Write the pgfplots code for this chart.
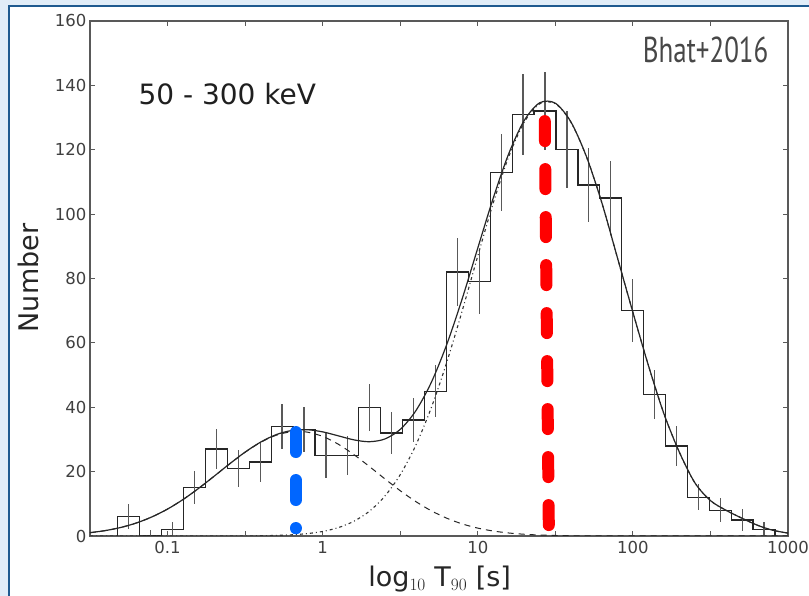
\documentclass[border=0pt]{standalone}
\usepackage{fontspec}
\setmainfont{DejaVu Sans}
\newfontfamily\bhatfont{PT Sans}
\usepackage{graphicx}
\usepackage{pgfplots}
\usepackage{pgfplotstable}
\pgfplotsset{compat=1.18}
\definecolor{framebg}{HTML}{E1EDF8}
\definecolor{framedark}{HTML}{1F5A8F}
\definecolor{blueline}{HTML}{0066FF}
\definecolor{redline}{HTML}{FF0000}

% histogram outline: left bin edge (log10 T90), count
\pgfplotstableread{
x y
-1.3206 0
-1.3206 6
-1.1794 0
-1.0382 2
-0.8969 15
-0.7557 27
-0.6144 21
-0.4732 23
-0.3320 34
-0.1907 33
-0.0495 25
0.0917 25
0.2330 40
0.3742 32
0.5154 36
0.6566 45
0.7979 82
0.9391 79
1.0803 113
1.2216 131
1.3628 132
1.5040 120
1.6452 109
1.7865 105
1.9277 70
2.0689 44
2.2102 28
2.3514 12
2.4926 8
2.6339 5
2.7751 2
2.9163 0
}\histdata

% bin centres, counts, errors
\pgfplotstableread{
x y e
-1.2500 6 3.8
-1.1088 0 2.0
-0.9675 2 2.4
-0.8263 15 5.2
-0.6851 27 6.3
-0.5438 21 5.7
-0.4026 23 6.2
-0.2614 34 7.1
-0.1201 33 7.0
0.0211 25 7.0
0.1623 25 6.1
0.3036 40 7.3
0.4448 32 6.5
0.5860 36 6.8
0.7273 45 8.0
0.8685 82 10.5
1.0097 79 10.0
1.1509 113 12.0
1.2922 131 12.6
1.4334 132 12.0
1.5746 120 12.0
1.7159 109 11.5
1.8571 105 11.5
1.9983 70 9.8
2.1396 44 7.7
2.2808 28 6.3
2.4220 12 4.0
2.5633 8 3.8
2.7045 5 3.3
2.8457 2 2.4
}\errdata

% fitted curves: short component S, long component L, total T
\pgfplotstableread{
x S L T
-1.5 1.03 0 1.03
-1.4 1.69 0 1.69
-1.3 2.67 0 2.67
-1.2 4.06 0 4.06
-1.1 5.95 0 5.95
-1.0 8.37 0 8.37
-0.9 11.34 0 11.34
-0.8 14.79 0 14.79
-0.7 18.55 0.01 18.56
-0.6 22.40 0.01 22.41
-0.5 26.02 0.04 26.06
-0.4 29.09 0.08 29.17
-0.3 31.30 0.18 31.48
-0.2 32.40 0.37 32.77
-0.1 32.28 0.74 33.02
0.0 30.94 1.41 32.35
0.1 28.54 2.59 31.13
0.2 25.33 4.55 29.88
0.3 21.64 7.65 29.29
0.4 17.79 12.33 30.12
0.5 14.07 19.04 33.11
0.6 10.71 28.15 38.86
0.7 7.84 39.83 47.67
0.8 5.53 53.97 59.50
0.9 3.75 70.02 73.77
1.0 2.45 87.00 89.45
1.1 1.54 103.50 105.04
1.2 0.93 117.90 118.83
1.3 0.54 128.60 129.14
1.4 0.30 134.30 134.60
1.5 0.16 134.30 134.46
1.6 0.08 128.60 128.68
1.7 0.04 117.90 117.94
1.8 0.02 103.50 103.52
1.9 0.01 86.50 86.51
2.0 0 69.50 69.50
2.1 0 53.00 53.00
2.2 0 38.00 38.00
2.3 0 26.00 26.00
2.4 0 16.50 16.50
2.5 0 11.00 11.00
2.6 0 8.00 8.00
2.7 0 5.60 5.60
2.8 0 3.40 3.40
2.9 0 1.80 1.80
3.0 0 0.90 0.90
}\curvedata

\begin{document}
\begin{tikzpicture}
\useasboundingbox (0,0) rectangle (809pt,596pt);
\fill[framebg] (0,0) rectangle (809pt,596pt);
\fill[white] (9pt,0) rectangle (809pt,590pt);
\draw[framedark, line width=1.5pt] (9pt,-2pt) -- (9pt,590pt) -- (811pt,590pt);
\begin{axis}[
  at={(90pt,60pt)}, anchor=south west,
  scale only axis, width=698pt, height=515pt,
  xmin=-1.5, xmax=3, ymin=0, ymax=160,
  xtick={-1.5,-1,-0.5,0,0.5,1,1.5,2,2.5,3},
  xticklabels={{},{0.1},{},{1},{},{10},{},{100},{},{1000}},
  ytick={0,20,...,160},
  tick align=inside, major tick length=5pt,
  axis line style={black!65, line width=1.3pt},
  every tick/.style={black!65, line width=1pt},
  ticklabel style={font=\fontsize{16.5}{18}\selectfont, text=black!75},
  xticklabel style={yshift=-2pt},
  /pgf/number format/assume math mode=true,
  xlabel={log$_{10}$ T$_{90}$ [s]},
  ylabel={Number},
  label style={font=\fontsize{27}{30}\selectfont, text=black!85},
  xlabel style={at={(axis description cs:0.501,-0.099)}, anchor=base},
  ylabel style={at={(axis description cs:-0.0745,0.501)}, anchor=base},
]
\addplot[const plot mark left, black!85, line width=1.3pt] table[x=x,y=y] {\histdata};
\addplot[draw=none, mark=none, error bars/.cd, y dir=both, y explicit,
  error mark=none, error bar style={solid, draw=black!65, line width=1.3pt}]
  table[x=x, y=y, y error=e] {\errdata};
\addplot[smooth, black!85, line width=1pt, dash pattern=on 6pt off 5pt] table[x=x,y=S] {\curvedata};
\addplot[smooth, black!80, line width=1.1pt, dash pattern=on 3pt off 3pt on 1pt off 3pt] table[x=x,y=L] {\curvedata};
\addplot[smooth, black!85, line width=1.2pt] table[x=x,y=T] {\curvedata};
\addplot[blueline, line width=12pt, line cap=round, dash pattern=on 20pt off 28pt] coordinates {(-0.174,32.3) (-0.174,2.4)};
\addplot[redline, line width=12pt, line cap=round, dash pattern=on 20pt off 28pt] coordinates {(1.432,128.9) (1.458,2.8)};
\node[anchor=base west, font=\fontsize{28}{32}\selectfont, text=black!88] at (axis description cs:0.0645,0.837) {50 - 300 keV};
\node[anchor=base east, text=black!72] at (axis description cs:0.977,0.920) {\scalebox{0.75}[1]{\bhatfont\fontsize{36}{40}\selectfont Bhat+2016}};
\end{axis}
\end{tikzpicture}
\end{document}
